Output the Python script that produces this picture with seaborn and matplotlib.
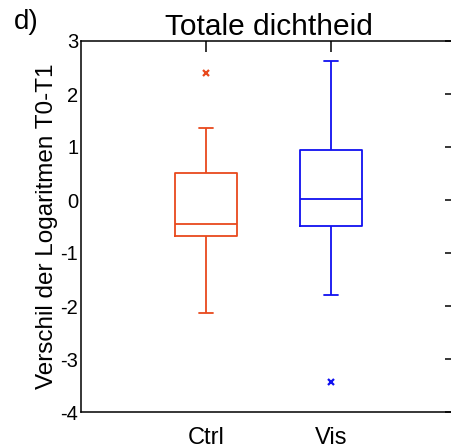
import matplotlib
matplotlib.use("Agg")
import matplotlib.pyplot as plt
import seaborn as sns
import pandas as pd

# values (whisker ends, quartiles, median, outliers)
ctrl_values = [-2.14, -1.20, -0.67, -0.55, -0.45, 0.10, 0.50, 1.36, 2.40]
vis_values = [-3.43, -1.79, -0.50, -0.20, 0.02, 0.50, 0.94, 1.60, 2.63]
groups = ["Ctrl", "Vis"]
colors = {"Ctrl": "#E8491D", "Vis": "#1010F0"}
yticks = [-4, -3, -2, -1, 0, 1, 2, 3]

df = pd.DataFrame({
    "group": ["Ctrl"] * len(ctrl_values) + ["Vis"] * len(vis_values),
    "value": ctrl_values + vis_values,
})

sns.set_style("white")
plt.rcParams["font.family"] = ["Liberation Sans", "DejaVu Sans"]
plt.rcParams["text.color"] = "black"
plt.rcParams["axes.labelcolor"] = "black"
plt.rcParams["xtick.color"] = "black"
plt.rcParams["ytick.color"] = "black"

fig = plt.figure(figsize=(4.52, 4.48), dpi=100)
ax = fig.add_axes([81 / 452, 36 / 448, 375 / 452, 371 / 448])

sns.boxplot(data=df, x="group", y="value", hue="group", order=groups,
            palette=colors, saturation=1, fill=False, width=0.5,
            linewidth=1.3, whis=1.5, legend=False, ax=ax,
            flierprops=dict(marker="x", markersize=5, markeredgewidth=1.6))

# shorter caps, like the original
for line in ax.lines:
    xd, yd = line.get_xdata(), line.get_ydata()
    if len(xd) == 2 and yd[0] == yd[1] and abs(xd[1] - xd[0]) < 0.4:
        c = (xd[0] + xd[1]) / 2
        line.set_xdata([c - 0.055, c + 0.055])

ax.set_xlim(-1, 2)
ax.set_ylim(-4, 3)
ax.set_yticks(yticks)
ax.set_yticklabels([str(t) for t in yticks])
ax.set_xlabel("")
ax.set_ylabel("Verschil der Logaritmen T0-T1", fontsize=17.5, labelpad=2)
ax.set_title("Totale dichtheid", fontsize=21.5, pad=4)

for s in ax.spines.values():
    s.set_color("black")
    s.set_linewidth(1.1)
ax.tick_params(axis="both", direction="in", length=8, width=1.1,
               top=True, right=True, color="black")
ax.tick_params(axis="y", labelsize=14.5, pad=2)
ax.tick_params(axis="x", labelsize=17, pad=11)

fig.text(14 / 452, 1 - 29 / 448, "d)", fontsize=20)

fig.savefig("out.png", dpi=100)
